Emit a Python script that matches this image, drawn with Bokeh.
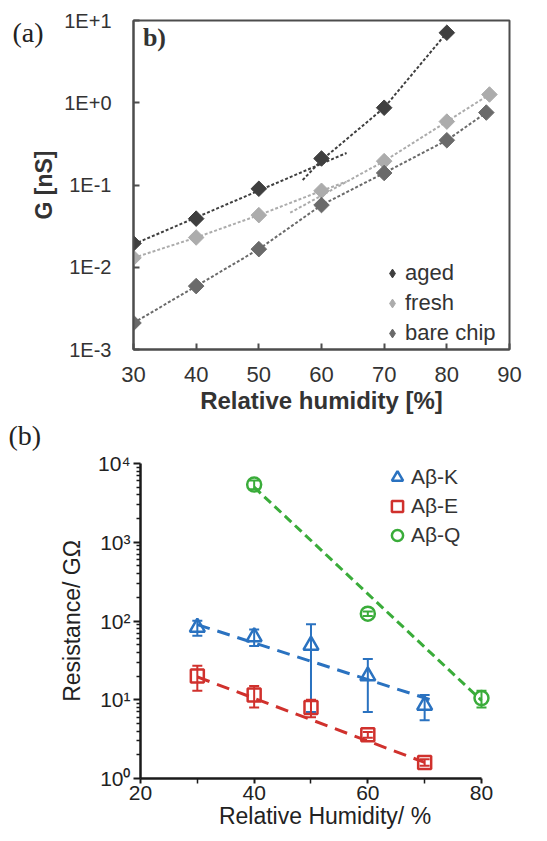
import numpy as np
from bokeh.plotting import figure
from bokeh.layouts import column, row
from bokeh.models import (ColumnDataSource, Whisker, TeeHead, Legend, LegendItem, Label,
                          FixedTicker, Range1d, Spacer)
from bokeh.embed import file_html
from bokeh.resources import INLINE

# ---------------- Panel (a) data ----------------
rh_aged = [30, 40, 50, 60, 70, 80]
g_aged = [0.0195, 0.039, 0.09, 0.21, 0.87, 7.1]
rh_fresh = [30, 40, 50, 60, 70, 80, 86.8]
g_fresh = [0.013, 0.023, 0.043, 0.085, 0.195, 0.59, 1.26]
rh_bare = [30, 40, 50, 60, 70, 80, 86.3]
g_bare = [0.0021, 0.0059, 0.0166, 0.057, 0.14, 0.35, 0.76]

# trend lines
aged_fit1_x = [30, 64]
aged_fit1_y = [0.019, 0.245]
aged_fit2_x = [57, 60, 70, 80]
aged_fit2_y = [0.115, 0.2, 0.87, 7.1]
fresh_fit1_x = [30, 40, 50, 60, 64]
fresh_fit1_y = [0.013, 0.023, 0.043, 0.085, 0.11]
fresh_fit2_x = [55, 70, 80, 86.8]
fresh_fit2_y = [0.046, 0.195, 0.59, 1.26]

x_ticks_a = [30, 40, 50, 60, 70, 80, 90]
y_ticks_a = [0.001, 0.01, 0.1, 1, 10]
y_labels_a = ["1E-3", "1E-2", "1E-1", "1E+0", "1E+1"]

# ---------------- Panel (b) data ----------------
rh_k = [30, 40, 50, 60, 70]
res_k = [83, 63, 49, 20, 8.5]
err_k = [18, 15, 42, 13, 3]
rh_e = [30, 40, 50, 60, 70]
res_e = [20, 11.5, 8, 3.6, 1.6]
err_e = [7, 3.5, 2, 0.3, 0.15]
rh_q = [40, 60, 80]
res_q = [5400, 124, 10.5]
err_q = [700, 8, 2.5]

k_fit_x = [30, 71]
k_fit_y = [90, 10]
e_fit_x = [30, 70]
e_fit_y = [19.5, 1.6]
q_fit_x = [40, 80]
q_fit_y = [5000, 9.8]

x_ticks_b = [20, 40, 60, 80]
x_minor_b = [30, 50, 70]
y_ticks_b = [1, 10, 100, 1000, 10000]
y_labels_b = ["10\u2070", "10\u00b9", "10\u00b2", "10\u00b3", "10\u2074"]

SANS = "Liberation Sans"
SERIF = "Liberation Serif"

# ---------------- Figure (a) ----------------
C_AGED = "#3f3f3f"
C_FRESH = "#acacac"
C_BARE = "#6a6a6a"
FRAME = "#4d4d4d"

p1 = figure(width=547, height=421, x_range=Range1d(30, 90), y_range=Range1d(1e-3, 10),
            y_axis_type="log", output_backend="svg", toolbar_location=None,
            min_border_left=133, min_border_right=38, min_border_top=20, min_border_bottom=72)
p1.xgrid.visible = False
p1.ygrid.visible = False
p1.outline_line_color = FRAME
p1.outline_line_width = 2

for ax in (p1.xaxis[0], p1.yaxis[0]):
    ax.axis_line_color = FRAME
    ax.axis_line_width = 2
    ax.major_tick_line_color = FRAME
    ax.major_tick_line_width = 2
    ax.major_tick_in = 6
    ax.major_tick_out = 0
    ax.minor_tick_line_color = None
    ax.major_label_text_font = SANS
    ax.major_label_text_color = "#333333"
    ax.axis_label_text_font = SANS
    ax.axis_label_text_font_style = "bold"
    ax.axis_label_text_color = "#333333"

p1.xaxis.ticker = FixedTicker(ticks=x_ticks_a)
p1.xaxis.major_label_text_font_size = "22px"
p1.xaxis.major_label_standoff = 17
p1.xaxis.axis_label = "Relative humidity [%]"
p1.xaxis.axis_label_text_font_size = "24px"
p1.xaxis.axis_label_standoff = 2

p1.yaxis.ticker = FixedTicker(ticks=y_ticks_a)
p1.yaxis.major_label_overrides = dict(zip(y_ticks_a, y_labels_a))
p1.yaxis.major_label_text_font_size = "20px"
p1.yaxis.major_label_standoff = 22
p1.yaxis.axis_label = "G [nS]"
p1.yaxis.axis_label_text_font_size = "23px"
p1.yaxis.axis_label_standoff = 4

dash_a = "3 2"
p1.line(aged_fit1_x, aged_fit1_y, line_color=C_AGED, line_width=2, line_dash=dash_a)
p1.line(aged_fit2_x, aged_fit2_y, line_color=C_AGED, line_width=2, line_dash=dash_a)
p1.line(fresh_fit1_x, fresh_fit1_y, line_color=C_FRESH, line_width=2, line_dash=dash_a)
p1.line(fresh_fit2_x, fresh_fit2_y, line_color=C_FRESH, line_width=2, line_dash=dash_a)
p1.line(rh_bare, g_bare, line_color=C_BARE, line_width=2, line_dash=dash_a)

p1.scatter(rh_aged, g_aged, marker="square", angle=np.pi / 4, size=11,
           fill_color=C_AGED, line_color=C_AGED)
p1.scatter(rh_fresh, g_fresh, marker="square", angle=np.pi / 4, size=11,
           fill_color=C_FRESH, line_color=C_FRESH)
p1.scatter(rh_bare, g_bare, marker="square", angle=np.pi / 4, size=11,
           fill_color=C_BARE, line_color=C_BARE)

# zero-size diamond renderers: only their legend glyphs are visible
lg_aged = p1.scatter(rh_aged, g_aged, marker="diamond", size=0,
                     fill_color=C_AGED, line_color=C_AGED)
lg_fresh = p1.scatter(rh_fresh, g_fresh, marker="diamond", size=0,
                      fill_color=C_FRESH, line_color=C_FRESH)
lg_bare = p1.scatter(rh_bare, g_bare, marker="diamond", size=0,
                     fill_color=C_BARE, line_color=C_BARE)

leg1 = Legend(items=[LegendItem(label="aged", renderers=[lg_aged]),
                     LegendItem(label="fresh", renderers=[lg_fresh]),
                     LegendItem(label="bare chip", renderers=[lg_bare])],
              location=(248, 1), glyph_width=22, glyph_height=30, label_height=30,
              spacing=0, padding=0, margin=0, label_standoff=2,
              background_fill_alpha=0, border_line_alpha=0,
              label_text_font=SANS, label_text_font_size="22px", label_text_color="#333333")
p1.add_layout(leg1)

# panel tag, placed in the right side panel (not clipped by the frame)
p1.add_layout(Label(x=-497, y=317, x_units="screen", y_units="screen", text="(a)",
                    text_font=SERIF, text_font_size="28px",
                    text_baseline="middle", text_align="left", text_color="#222222"), "right")
p1.add_layout(Label(x=31.5, y=10 ** 0.79, text="b)", text_font=SERIF, text_font_size="26px",
                    text_font_style="bold", text_baseline="middle", text_align="left",
                    text_color="#333333"))

# ---------------- Figure (b) ----------------
BLUE = "#2a72c0"
RED = "#d0312d"
GREEN = "#3aac3a"
AX = "#1a1a1a"

p2 = figure(width=540, height=420, x_range=Range1d(20, 84.93), y_range=Range1d(1, 1e4),
            y_axis_type="log", output_backend="svg", toolbar_location=None,
            min_border_left=133, min_border_right=38, min_border_top=42, min_border_bottom=63)
p2.xgrid.visible = False
p2.ygrid.visible = False
p2.outline_line_color = None

for ax in (p2.xaxis[0], p2.yaxis[0]):
    ax.axis_line_color = AX
    ax.axis_line_width = 2.5
    ax.major_tick_line_color = AX
    ax.major_tick_line_width = 2
    ax.minor_tick_line_color = AX
    ax.minor_tick_line_width = 1.5
    ax.major_tick_in = 0
    ax.minor_tick_in = 0
    ax.major_label_text_font = SANS
    ax.major_label_text_color = "#222222"
    ax.axis_label_text_font = SANS
    ax.axis_label_text_font_style = "normal"
    ax.axis_label_text_color = "#222222"
    ax.axis_label_text_font_size = "23px"
    ax.major_label_text_font_size = "21px"

p2.xaxis.bounds = (20, 80)
p2.xaxis.ticker = FixedTicker(ticks=x_ticks_b, minor_ticks=x_minor_b)
p2.xaxis.major_tick_out = 5
p2.xaxis.minor_tick_out = 5
p2.xaxis.major_label_standoff = 2
p2.xaxis.axis_label = "Relative Humidity/ %"
p2.xaxis.axis_label_standoff = 0

minor_b = [m * 10 ** e for e in range(4) for m in range(2, 10)]
p2.yaxis.ticker = FixedTicker(ticks=y_ticks_b, minor_ticks=minor_b)
p2.yaxis.major_label_overrides = dict(zip(y_ticks_b, y_labels_b))
p2.yaxis.major_tick_out = 7
p2.yaxis.minor_tick_out = 4
p2.yaxis.major_label_standoff = 3
p2.yaxis.axis_label = "Resistance/ G\u03a9"
p2.yaxis.axis_label_standoff = 10

p2.line(k_fit_x, k_fit_y, line_color=BLUE, line_width=3, line_dash="13 8")
p2.line(e_fit_x, e_fit_y, line_color=RED, line_width=3, line_dash="13 8")
p2.line(q_fit_x, q_fit_y, line_color=GREEN, line_width=3, line_dash="9 5")


def add_err(xs, ys, es, color):
    src = ColumnDataSource(dict(x=xs, upper=[y + e for y, e in zip(ys, es)],
                                lower=[y - e for y, e in zip(ys, es)]))
    w = Whisker(source=src, base="x", upper="upper", lower="lower", line_color=color,
                line_width=2,
                upper_head=TeeHead(size=10, line_color=color, line_width=2),
                lower_head=TeeHead(size=10, line_color=color, line_width=2))
    p2.add_layout(w)


add_err(rh_k, res_k, err_k, BLUE)
add_err(rh_e, res_e, err_e, RED)
add_err(rh_q, res_q, err_q, GREEN)

r_k = p2.scatter(rh_k, res_k, marker="triangle", size=15, fill_color=None,
                 line_color=BLUE, line_width=2.5)
r_e = p2.scatter(rh_e, res_e, marker="square", size=13, fill_color=None,
                 line_color=RED, line_width=2.5)
r_q = p2.scatter(rh_q, res_q, marker="circle", size=14, fill_color=None,
                 line_color=GREEN, line_width=2.5)

leg2 = Legend(items=[LegendItem(label="A\u03b2-K", renderers=[r_k]),
                     LegendItem(label="A\u03b2-E", renderers=[r_e]),
                     LegendItem(label="A\u03b2-Q", renderers=[r_q])],
              location=(243, 229), glyph_width=28, glyph_height=28, label_height=28,
              spacing=1, padding=0, margin=0, label_standoff=0,
              background_fill_alpha=0, border_line_alpha=0,
              label_text_font=SANS, label_text_font_size="21px", label_text_color="#333333")
p2.add_layout(leg2)

p2.add_layout(Label(x=-501, y=343, x_units="screen", y_units="screen", text="(b)",
                    text_font=SERIF, text_font_size="28px",
                    text_baseline="middle", text_align="left", text_color="#222222"), "right")

layout = column(p1, row(Spacer(width=7, height=420), p2, spacing=0), spacing=0)
open("out.html", "w").write(file_html(layout, INLINE))
